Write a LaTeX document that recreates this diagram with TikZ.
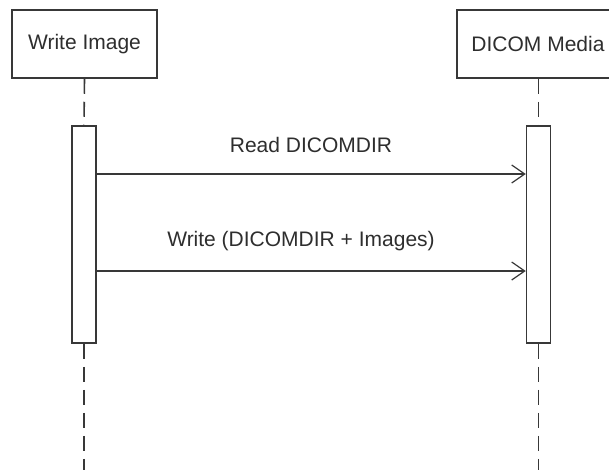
\documentclass[tikz,border=0pt]{standalone}
\usepackage{fontspec}
\setmainfont{Liberation Sans}
\usetikzlibrary{arrows.meta}
\definecolor{linec}{HTML}{383838}
\definecolor{textc}{HTML}{2E2E2E}
\begin{document}
\begin{tikzpicture}[x=1pt,y=-1pt,
  actor/.style={draw=linec, line width=1.5pt, fill=white, minimum width=145pt, minimum height=68pt, inner sep=0pt, text=textc, font=\fontsize{21}{25}\selectfont},
  actbar/.style={draw=linec, line width=1.5pt, fill=white, minimum width=24pt, minimum height=217pt, inner sep=0pt},
  life/.style={draw=linec, line width=1.6pt, dash pattern=on 15pt off 8pt},
  msg/.style={draw=linec, line width=1.3pt, -{Straight Barb[length=13pt,width=18pt,line width=1.2pt]}},
  lbl/.style={inner sep=0pt, text=textc, font=\fontsize{21}{25}\selectfont}]
\useasboundingbox (0,0) rectangle (609,469);
\clip (0,0) rectangle (609,469);
\fill[white] (0,0) rectangle (609,469);
\node[actor] (wi) at (84.5,44) {Write Image};
\node[actor, minimum width=162pt] (dm) at (538,44) {DICOM Media};
\node[actbar] (a1) at (84,234.5) {};
\node[actbar] (a2) at (538.5,234.5) {};
\coordinate (e1) at (84,475);
\coordinate (e2) at (538.5,475);
\draw[life] (wi.south) -- (a1.north);
\draw[life] (dm.south -| a2.north) -- (a2.north);
\draw[life] (a1.south) -- (e1);
\draw[life] (a2.south) -- (e2);
\coordinate (m1s) at (a1.east |- 0,174);
\coordinate (m1e) at (a2.west |- 0,174);
\coordinate (m2s) at (a1.east |- 0,271);
\coordinate (m2e) at (a2.west |- 0,271);
\draw[msg] (m1s) -- (m1e);
\draw[msg] (m2s) -- (m2e);
\node[lbl] (l1) at (311,145) {Read DICOMDIR};
\node[lbl] (l2) at (301,241) {Write (DICOMDIR + Images)};
\end{tikzpicture}
\end{document}
